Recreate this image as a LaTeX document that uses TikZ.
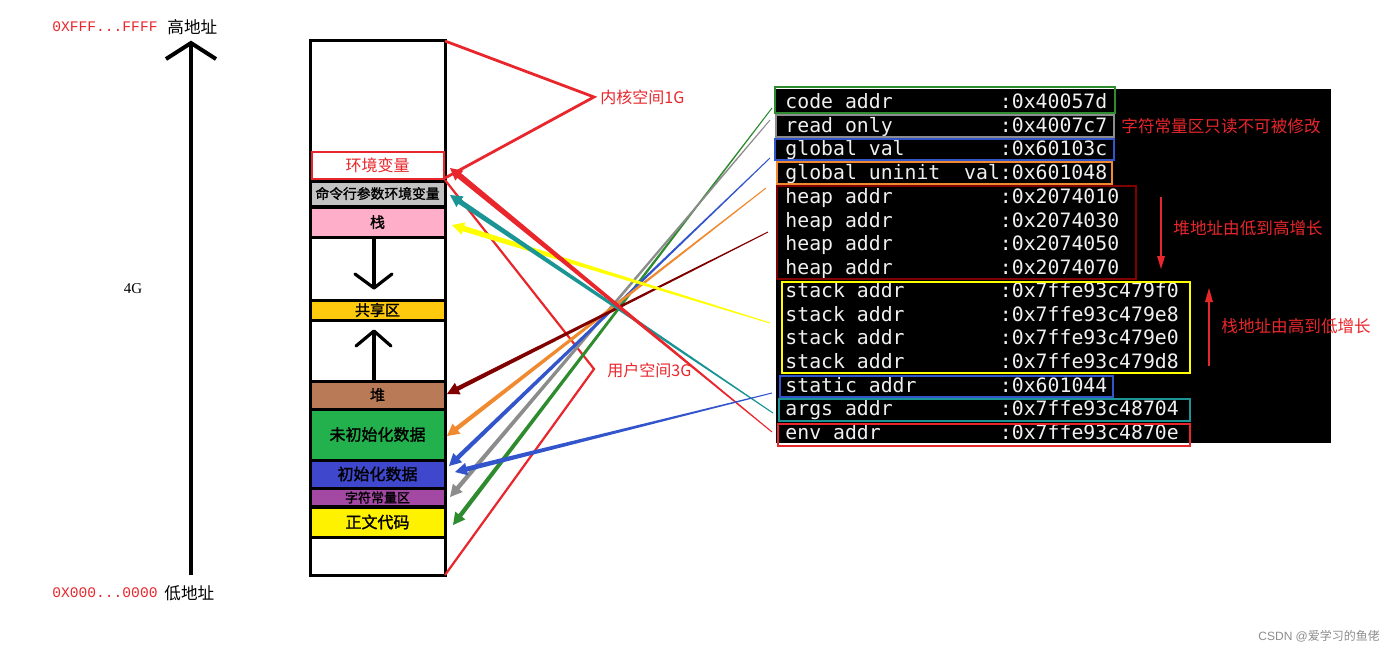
\documentclass[tikz,border=0pt]{standalone}
\usepackage{fontspec}
\setmainfont{Liberation Serif}
\newfontfamily\cjk{Noto Sans CJK SC}
\newfontfamily\cjkb{Noto Sans CJK SC}[FakeBold=1.5]
\newfontfamily\termfont{DejaVu Sans Mono}
\newfontfamily\addrfont{Liberation Mono}
\newfontfamily\wmfont{Liberation Sans}
\usetikzlibrary{calc}

\definecolor{kred}{HTML}{E8262B}
\definecolor{tgreen}{HTML}{2E8B2E}
\definecolor{tgray}{HTML}{8C8C8C}
\definecolor{tblue}{HTML}{3355CC}
\definecolor{torange}{HTML}{F08A30}
\definecolor{tdred}{HTML}{800000}
\definecolor{tyellow}{HTML}{FFFF00}
\definecolor{tteal}{HTML}{1A9494}
\definecolor{ttext}{HTML}{F0F0F0}
\definecolor{cgray}{HTML}{C3C3C3}
\definecolor{cpink}{HTML}{FFAEC9}
\definecolor{cgold}{HTML}{FFC90E}
\definecolor{cbrown}{HTML}{B97A57}
\definecolor{cgreen}{HTML}{22B14C}
\definecolor{cblue}{HTML}{3F48CC}
\definecolor{cpurple}{HTML}{A349A4}
\definecolor{cyellow}{HTML}{FFF200}

\newcommand\fs[1]{\fontsize{#1}{#1}\selectfont}

% tapered arrow: #1 start, #2 tip, #3 colour, #4 shaft half width at head
\newcommand\taparrow[4]{%
  \coordinate (hb) at ($(#2)!6pt!(#1)$);
  \fill[#3] ($(#1)!0.25pt!90:(#2)$) -- ($(hb)!#4!90:(#2)$) -- ($(hb)!3.2pt!90:(#2)$)
    -- (#2) -- ($(hb)!3.2pt!-90:(#2)$) -- ($(hb)!#4!-90:(#2)$)
    -- ($(#1)!0.25pt!-90:(#2)$) -- cycle;}

\begin{document}
\begin{tikzpicture}[x=0.5pt,y=-0.5pt,
  blk/.style={draw=black,line width=1.5pt,minimum width=67.5pt,inner sep=0pt,
    font=\cjkb\fs{8pt},text=black},
  term/.style={anchor=base west,inner sep=0pt,text=ttext,font=\termfont\fs{9.9pt}},
  tbox/.style={line width=1pt},
  note/.style={text=kred,font=\cjk\fs{8.3pt},inner sep=0pt},
  chev/.style={line width=1.6pt,line cap=round,line join=round},
  bracket/.style={draw=kred,line width=1.4pt,line join=miter}]
\useasboundingbox (0,0) rectangle (1400,649);

% ---------- address axis ----------
\node[inner sep=0pt,anchor=west,text=kred,font=\addrfont\fs{7.3pt}] (hiaddr) at (52,27) {0XFFF...FFFF};
\node[inner sep=0pt,anchor=west,font=\cjk\fs{8.3pt}] (hilab) at (167,27) {高地址};
\node[inner sep=0pt,anchor=west,text=kred,font=\addrfont\fs{7.3pt}] (loaddr) at (52,593) {0X000...0000};
\node[inner sep=0pt,anchor=west,font=\cjk\fs{8.3pt}] (lolab) at (164,593) {低地址};
\node[inner sep=0pt,font=\fs{7.5pt}] (fourg) at (133,289) {4G};
\coordinate (axbot) at (191,575);
\coordinate (axtop) at (191,43);
\draw[line width=2pt] (axbot) -- (axtop);
\draw[line width=2pt,line join=miter] (166,59) -- (axtop) -- (216,59);

% ---------- memory column ----------
\node[draw=black,line width=1.5pt,minimum width=67.5pt,minimum height=267.5pt,inner sep=0pt] (col) at (377.5,307.5) {};
\node[draw=kred,line width=1pt,fill=white,minimum width=66pt,minimum height=13.5pt,inner sep=0pt,
      text=kred,font=\cjk\fs{8pt}] (env) at (377.5,165.5) {环境变量};
\node[blk,fill=cgray,minimum height=12.5pt,font=\cjkb\fs{6.9pt}] (cmd) at (377.5,193.5) {命令行参数环境变量};
\node[blk,fill=cpink,minimum height=15pt,font=\cjkb\fs{7.5pt}] (stk) at (377.5,222) {栈};
\node[blk,fill=cgold,minimum height=10pt,font=\cjkb\fs{7.5pt}] (shr) at (377.5,310) {共享区};
\node[blk,fill=cbrown,minimum height=14pt,font=\cjkb\fs{7.5pt}] (hp) at (377.5,395) {堆};
\node[blk,fill=cgreen,minimum height=25.5pt] (bss) at (377.5,434.5) {未初始化数据};
\node[blk,fill=cblue,minimum height=14pt] (dat) at (377.5,474) {初始化数据};
\node[blk,fill=cpurple,minimum height=9pt,font=\cjkb\fs{6.5pt}] (ro) at (377.5,497.5) {字符常量区};
\node[blk,fill=cyellow,minimum height=15pt] (txt) at (377.5,522) {正文代码};

% growth arrows in column
\coordinate (dnA) at (374,239);
\coordinate (dnB) at (374,288);
\draw[line width=1.6pt] (dnA) -- (dnB);
\draw[chev] (355,274) -- (dnB) -- (392,274);
\coordinate (upA) at (374,381);
\coordinate (upB) at (374,331);
\draw[line width=1.6pt] (upA) -- (upB);
\draw[chev] (356,346) -- (upB) -- (391,346);

% ---------- kernel / user brackets ----------
\coordinate (kA) at (445,41);
\coordinate (kB) at (594,97);
\coordinate (kC) at (445,178);
\draw[bracket] (kA) -- (kB) -- (kC);
\node[note,anchor=west,font=\cjk\fs{8pt}] (klab) at (600,97) {内核空间1G};
\coordinate (uA) at (445,180);
\coordinate (uB) at (594,369);
\coordinate (uC) at (445,575);
\draw[bracket,line width=1.1pt] (uA) -- (uB) -- (uC);
\node[note,anchor=west,font=\cjk\fs{8pt}] (ulab) at (607,370) {用户空间3G};

% ---------- connector end points ----------
\coordinate (sEnv) at (772,432);   \coordinate (tEnv) at (450,168);
\coordinate (sArg) at (773,413);   \coordinate (tArg) at (450,195);
\coordinate (sStk) at (770,323);   \coordinate (tStk) at (452,225);
\coordinate (sHp)  at (768,232);   \coordinate (tHp)  at (447,394);
\coordinate (sBss) at (766,188);   \coordinate (tBss) at (447,436);
\coordinate (sDat) at (770,158);   \coordinate (tDat) at (449,466);
\coordinate (sSta) at (772,393);   \coordinate (tSta) at (455,472);
\coordinate (sRo)  at (770,120);   \coordinate (tRo)  at (450,497);
\coordinate (sTxt) at (772,108);   \coordinate (tTxt) at (453,525);

\taparrow{sTxt}{tTxt}{tgreen}{1.1pt}
\taparrow{sRo}{tRo}{tgray}{1.1pt}
\taparrow{sDat}{tDat}{tblue}{1.1pt}
\taparrow{sBss}{tBss}{torange}{1.1pt}
\taparrow{sHp}{tHp}{tdred}{1.1pt}
\taparrow{sStk}{tStk}{tyellow}{1.4pt}
\taparrow{sArg}{tArg}{tteal}{1.3pt}
\taparrow{sEnv}{tEnv}{kred}{1.5pt}
\taparrow{sSta}{tSta}{tblue}{1.2pt}

% ---------- terminal ----------
\fill[black] (776,89) rectangle (1331,443);
\node[term] (l1)  at (785,108.5) {code~addr~~~~~~~~~:0x40057d};
\node[term] (l2)  at (785,132.1) {read~only~~~~~~~~~:0x4007c7};
\node[term] (l3)  at (785,155.7) {global~val~~~~~~~~:0x60103c};
\node[term] (l4)  at (785,179.3) {global~uninit~~val:0x601048};
\node[term] (l5)  at (785,203.4) {heap~addr~~~~~~~~~:0x2074010};
\node[term] (l6)  at (785,227.0) {heap~addr~~~~~~~~~:0x2074030};
\node[term] (l7)  at (785,250.5) {heap~addr~~~~~~~~~:0x2074050};
\node[term] (l8)  at (785,274.1) {heap~addr~~~~~~~~~:0x2074070};
\node[term] (l9)  at (785,297.7) {stack~addr~~~~~~~~:0x7ffe93c479f0};
\node[term] (l10) at (785,321.3) {stack~addr~~~~~~~~:0x7ffe93c479e8};
\node[term] (l11) at (785,344.9) {stack~addr~~~~~~~~:0x7ffe93c479e0};
\node[term] (l12) at (785,368.5) {stack~addr~~~~~~~~:0x7ffe93c479d8};
\node[term] (l13) at (785,392.1) {static~addr~~~~~~~:0x601044};
\node[term] (l14) at (785,415.7) {args~addr~~~~~~~~~:0x7ffe93c48704};
\node[term] (l15) at (785,439.3) {env~addr~~~~~~~~~~:0x7ffe93c4870e};

\draw[tbox,draw=tgreen]  (775,87) rectangle (1115,113);
\draw[tbox,draw=tgray]   (776,115) rectangle (1114,137);
\draw[tbox,draw=tblue]   (775,139) rectangle (1114,160);
\draw[tbox,draw=torange] (777,162) rectangle (1112,184);
\draw[tbox,draw=tdred]   (777,186) rectangle (1136,279);
\draw[tbox,draw=tyellow] (782,282) rectangle (1190,373);
\draw[tbox,draw=tblue]   (780,376) rectangle (1113,397);
\draw[tbox,draw=tteal]   (779,399) rectangle (1190,421);
\draw[tbox,draw=kred]    (778,424) rectangle (1190,446);

% annotations
\node[note,anchor=west] (n1) at (1121,126) {字符常量区只读不可被修改};
\node[note,anchor=west] (n2) at (1173,228) {堆地址由低到高增长};
\node[note,anchor=west] (n3) at (1221,326) {栈地址由高到低增长};
\coordinate (hdA) at (1161,197);
\coordinate (hdB) at (1161,269);
\draw[kred,line width=1pt] (hdA) -- (1161,258);
\fill[kred] (1157,256) -- (hdB) -- (1165,256) -- cycle;
\coordinate (sdA) at (1209,366);
\coordinate (sdB) at (1209,288);
\draw[kred,line width=1pt] (sdA) -- (1209,300);
\fill[kred] (1205,302) -- (sdB) -- (1213,302) -- cycle;

% watermark
\node[inner sep=0pt,anchor=west,text=black!45] (wm) at (1258,636) {\wmfont\fs{6pt}CSDN @\cjk 爱学习的鱼佬};
\end{tikzpicture}
\end{document}
